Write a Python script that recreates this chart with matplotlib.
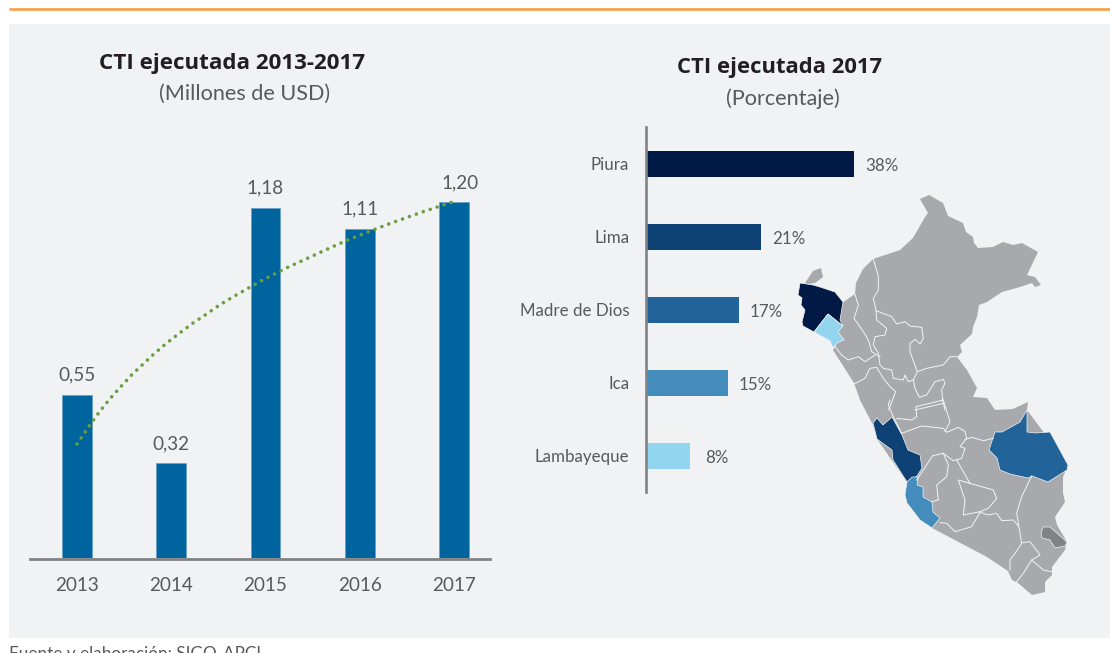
import matplotlib
matplotlib.use('Agg')
import matplotlib.pyplot as plt
from matplotlib.patches import Polygon, Rectangle

years = ['2013', '2014', '2015', '2016', '2017']
ejecutada = [0.55, 0.32, 1.18, 1.11, 1.20]
etiquetas = ['0,55', '0,32', '1,18', '1,11', '1,20']
# tendencia (posicion en el eje, valor)
trend_x = [0.00, 0.145, 0.244, 0.35, 0.464, 0.58, 0.703, 0.828, 0.958, 1.093, 1.228, 1.369, 1.51, 1.655, 1.804,
           1.949, 2.10, 2.252, 2.405, 2.56, 2.713, 2.868, 3.027, 3.186, 3.345, 3.504, 3.663, 3.823, 3.986]
trend_y = [0.384, 0.452, 0.495, 0.537, 0.577, 0.617, 0.654, 0.691, 0.726, 0.759, 0.791, 0.821, 0.852, 0.880, 0.907,
           0.933, 0.958, 0.982, 1.004, 1.027, 1.049, 1.071, 1.091, 1.111, 1.130, 1.148, 1.166, 1.183, 1.200]

regiones = ['Piura', 'Lima', 'Madre de Dios', 'Ica', 'Lambayeque']
porcentajes = [38, 21, 17, 15, 8]
colores = ['#011a45', '#0e4174', '#22639a', '#438cbc', '#93d5ee']

# contornos del mapa, en pixeles de la imagen
peru = [(873, 259), (900, 250), (913, 238), (925, 217), (928, 213), (920, 199), (929, 195), (943, 203), (948, 216),
        (963, 223), (966, 232), (973, 237), (974, 243), (978, 248), (993, 247), (1003, 242), (1013, 245), (1022, 243),
        (1038, 252), (1027, 275), (1035, 277), (1041, 285), (1035, 287), (1032, 283), (1020, 287), (1002, 292),
        (987, 302), (979, 305), (977, 317), (973, 327), (972, 334), (960, 345), (962, 352), (957, 357), (967, 370),
        (977, 388), (973, 397), (987, 398), (993, 407), (995, 410), (1013, 409), (1028, 402), (1027, 410),
        (1068, 465), (1063, 477), (1063, 493), (1065, 502), (1055, 517), (1057, 525), (1067, 542), (1065, 550),
        (1052, 567), (1052, 575), (1045, 582), (1045, 592), (1032, 595), (1018, 583), (1012, 580), (1008, 571),
        (987, 557), (932, 528), (907, 503), (905, 495), (907, 482), (877, 439), (873, 425), (860, 400), (854, 383),
        (833, 350), (836, 345), (842, 303), (855, 294), (856, 283), (863, 269)]
tumbes = [(805, 283), (813, 271), (821, 268), (823, 277), (815, 283), (807, 284)]
callao = [(887, 449), (891, 449), (893, 456), (889, 457)]
piura = [(798, 295), (800, 283), (813, 285), (820, 287), (835, 292), (843, 302), (840, 320), (843, 326), (828, 314),
         (814, 332), (803, 326), (802, 322), (805, 310), (801, 305), (802, 298)]
lambayeque = [(814, 332), (828, 314), (843, 326), (838, 332), (844, 340), (837, 343), (833, 348), (830, 341)]
lima = [(873, 423), (877, 418), (883, 425), (892, 417), (902, 435), (908, 450), (920, 455), (922, 468), (917, 476),
        (907, 482), (893, 460), (892, 450), (877, 439)]
ica = [(907, 482), (912, 477), (918, 477), (917, 485), (923, 487), (923, 497), (932, 502), (933, 512), (940, 518),
       (932, 528), (920, 520), (907, 503), (905, 495)]
madre = [(1027, 410), (1027, 432), (1035, 433), (1050, 432), (1068, 465), (1067, 470), (1048, 482), (1032, 476),
         (1028, 478), (1010, 474), (1000, 470), (997, 458), (989, 450), (995, 432), (1002, 432), (1020, 422)]
titicaca = [(1043, 527), (1050, 527), (1067, 542), (1065, 546), (1055, 548), (1050, 540), (1042, 538), (1041, 533)]

# limites interiores, en pixeles de los recortes del mapa
bordes_norte = [
    [(280, 237), (295, 290), (295, 330), (280, 355), (288, 390), (290, 420), (320, 445), (315, 465), (285, 470),
     (280, 495), (295, 520), (300, 555), (310, 565), (335, 570), (340, 595), (370, 600), (375, 585), (385, 605),
     (400, 600), (412, 575), (440, 565), (490, 555), (510, 530), (530, 530)],
    [(288, 392), (335, 410), (350, 432), (375, 425), (390, 438), (425, 442), (430, 475), (420, 492), (405, 478),
     (390, 490), (390, 515), (412, 575)],
    [(225, 343), (235, 375), (222, 415), (250, 455), (265, 480), (275, 515), (300, 530)],
    [(165, 500), (185, 525), (205, 540), (235, 530), (255, 545), (285, 525)],
    [(222, 612), (255, 595), (270, 565), (290, 562), (310, 595), (330, 620), (347, 635), (330, 680), (325, 690)],
    [(400, 600), (405, 625), (418, 652), (440, 645), (465, 605), (490, 598), (495, 610), (485, 630), (488, 660),
     (495, 690)],
    [(405, 690), (490, 670)],
]
bordes_sur = [
    [(330, 0), (325, 15), (340, 50), (365, 100)],
    [(350, 55), (395, 60), (410, 50), (408, 20), (490, 0)],
    [(490, 0), (510, 65), (495, 95)],
    [(365, 100), (425, 78), (490, 85), (500, 97), (535, 82), (555, 95), (560, 115), (540, 140), (555, 145), (545, 175),
     (520, 182), (490, 160), (458, 167), (410, 240)],
    [(555, 118), (575, 112), (610, 122), (640, 115)],
    [(490, 160), (505, 195), (500, 230), (470, 255), (475, 300), (455, 305)],
    [(530, 180), (570, 250), (535, 240), (555, 300), (550, 345), (600, 335), (625, 325), (650, 295), (640, 270),
     (570, 250)],
    [(480, 368), (500, 370), (525, 395), (575, 380), (600, 337), (625, 345), (650, 340), (665, 362), (700, 360),
     (715, 378)],
    [(755, 228), (725, 290), (710, 340), (725, 430), (705, 460), (690, 480), (690, 510)],
    [(725, 428), (750, 425), (780, 465), (755, 480), (730, 520), (708, 548)],
    [(755, 480), (790, 510), (815, 515)],
]

W, H = 1110, 653
plt.rcParams['font.family'] = ['Lato', 'Open Sans', 'DejaVu Sans']
plt.rcParams['lines.scale_dashes'] = False
GRIS = '#58595b'
EJE = '#808285'
NEGRITA = ['Open Sans', 'DejaVu Sans']


def px_axes(left, top, right, bottom):
    return fig.add_axes([left / W, 1 - bottom / H, (right - left) / W, (bottom - top) / H])


fig = plt.figure(figsize=(W / 100, H / 100), dpi=100, facecolor='white')

# fondo, textos sueltos y mapa en un eje en pixeles
bg = fig.add_axes([0, 0, 1, 1])
bg.set_xlim(0, W)
bg.set_ylim(H, 0)
bg.axis('off')
bg.add_patch(Rectangle((9, 24), W - 9, 614, fc='#f1f2f4', ec='none'))
bg.plot([9, W], [9.2, 9.2], color='#f7a145', lw=1.9, solid_capstyle='butt')
bg.text(232, 64, 'CTI ejecutada 2013-2017', ha='center', va='center', fontsize=16.1, fontweight='bold',
        family=NEGRITA, color='#231f20')
bg.text(245, 94, '(Millones de USD)', ha='center', va='center', fontsize=15.6, color=GRIS)
bg.text(780, 68, 'CTI ejecutada 2017', ha='center', va='center', fontsize=15.8, fontweight='bold',
        family=NEGRITA, color='#231f20')
bg.text(783, 99, '(Porcentaje)', ha='center', va='center', fontsize=15.6, color=GRIS)
bg.text(9, 659.5, 'Fuente y elaboración: SIGO-APCI', ha='left', va='baseline', fontsize=12.3, color=GRIS)

# barras 2013-2017
ax = px_axes(30, 120, 490, 558)
ax.patch.set_alpha(0)
for s in ['top', 'left', 'right']:
    ax.spines[s].set_visible(False)
ax.spines['bottom'].set_position(('outward', 1))
ax.spines['bottom'].set_color(EJE)
ax.spines['bottom'].set_linewidth(2)
pos = list(range(len(years)))
ax.bar(pos, ejecutada, width=0.318, color='#00649f', edgecolor='#5f9cc4', linewidth=0.4)
ax.plot(trend_x, trend_y, color='#6a9e3f', lw=2.6, ls=(0, (0.01, 5.27)), dash_capstyle='round', zorder=3)
for i, v in enumerate(ejecutada):
    dx = 6 if i == 4 else 0
    ax.annotate(etiquetas[i], (i, v), xytext=(dx, 11), textcoords='offset pixels', ha='center', va='bottom',
                fontsize=13.6, color=GRIS)
ax.set_xlim(-0.4987, 4.382)
ax.set_ylim(0, 1.476)
ax.set_xticks(pos, years, fontsize=13.6, color=GRIS)
ax.tick_params(axis='x', length=0, pad=13)
ax.set_yticks([])

# barras horizontales 2017
ax2 = px_axes(646, 127, 900, 492)
ax2.patch.set_alpha(0)
ypos = list(range(len(regiones)))
ax2.barh(ypos, porcentajes, height=26 / 73, color=colores)
for i, v in enumerate(porcentajes):
    ax2.annotate(f'{v}%', (v, i), xytext=(11 if v > 9 else 15, -2), textcoords='offset pixels', ha='left', va='center',
                 fontsize=12.2, color=GRIS)
ax2.set_xlim(0, 254 / 5.47)
ax2.set_ylim(4 + 36 / 73, -37 / 73)
ax2.set_yticks(ypos, regiones, fontsize=12.2, color=GRIS)
ax2.tick_params(axis='y', length=0, pad=12)
ax2.set_xticks([])
for s in ['top', 'bottom', 'right']:
    ax2.spines[s].set_visible(False)
ax2.spines['left'].set_color(EJE)
ax2.spines['left'].set_linewidth(1.9)

# mapa encima
mp = fig.add_axes([0, 0, 1, 1])
mp.set_xlim(0, W)
mp.set_ylim(H, 0)
mp.axis('off')
mp.patch.set_alpha(0)
GRIS_MAPA = '#a7a9ac'
for forma in [peru, tumbes, callao]:
    mp.add_patch(Polygon(forma, closed=True, fc=GRIS_MAPA, ec='none'))
for linea in bordes_norte:
    mp.plot([780 + p[0] / 3 for p in linea], [180 + p[1] / 3 for p in linea], color='#f4f4f5', lw=0.7)
for linea in bordes_sur:
    mp.plot([780 + p[0] / 3 for p in linea], [400 + p[1] / 3 for p in linea], color='#f4f4f5', lw=0.7)
for forma, c in [(piura, colores[0]), (lima, colores[1]), (madre, colores[2]), (ica, colores[3]),
                 (lambayeque, colores[4]), (titicaca, EJE)]:
    mp.add_patch(Polygon(forma, closed=True, fc=c, ec='#f4f4f5', lw=0.5))

fig.savefig('out.png', dpi=100)
